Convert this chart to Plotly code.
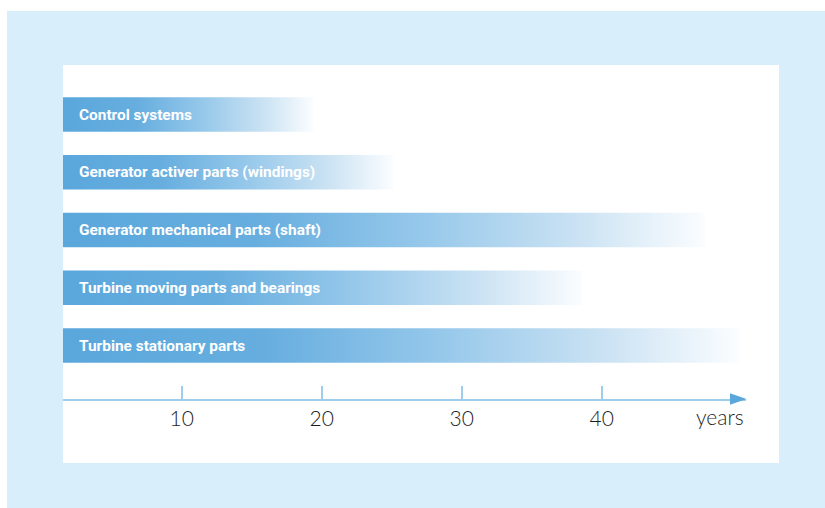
import plotly.graph_objects as go

# Component groups (top to bottom) and their expected service life in years
components = [
    "Control systems",
    "Generator activer parts (windings)",
    "Generator mechanical parts (shaft)",
    "Turbine moving parts and bearings",
    "Turbine stationary parts",
]
lifetimes = [19.4, 25.1, 47.4, 38.6, 49.8]
tick_values = [10, 20, 30, 40]
tick_labels = ["10", "20", "30", "40"]
axis_title = "years"

# Figure geometry (pixels)
FIG_W, FIG_H = 825, 508
L, R, T, B = 63, 746, 65, 399
PX_PER_YEAR = 14.0
ZERO_PX = 41.7
X_RANGE = [(L - ZERO_PX) / PX_PER_YEAR, (R - ZERO_PX) / PX_PER_YEAR]
ROW_PITCH = 57.75
FIRST_ROW_PX = 114.5
Y_RANGE = [(B - FIRST_ROW_PX) / ROW_PITCH, (T - FIRST_ROW_PX) / ROW_PITCH]
HALF_BAR = 0.3


def px(x):
    return (x - L) / (R - L)


def py(y):
    return (B - y) / (B - T)


BLUE = "#5aa7dc"
AXIS_BLUE = "#9fcdec"
gradient = [
    [0.0, BLUE],
    [0.3, "#67aedf"],
    [0.55, "#94c7ea"],
    [0.8, "#cae2f3"],
    [1.0, "#fbfdff"],
]
TICK_FONT = dict(family="Lato, sans-serif", size=21, color="#1e1e1e", weight=300)

fig = go.Figure()

x_start = X_RANGE[0]
for i, (name, years) in enumerate(zip(components, lifetimes)):
    fig.add_trace(
        go.Scatter(
            x=[x_start, years, years, x_start, x_start],
            y=[i - HALF_BAR, i - HALF_BAR, i + HALF_BAR, i + HALF_BAR, i - HALF_BAR],
            mode="lines",
            fill="toself",
            line=dict(width=0),
            fillgradient=dict(type="horizontal", colorscale=gradient),
            hoverinfo="skip",
            showlegend=False,
        )
    )
    fig.add_annotation(
        x=(77 - ZERO_PX) / PX_PER_YEAR,
        y=i,
        xref="x",
        yref="y",
        text=name,
        showarrow=False,
        xanchor="left",
        yanchor="middle",
        font=dict(family="Liberation Sans Narrow, Arial Narrow, Roboto, sans-serif",
                  size=15.4, color="white", weight="bold"),
    )

# Axis unit label at the arrow tip
fig.add_annotation(
    x=1, y=py(416.5), xref="paper", yref="paper",
    text=axis_title, showarrow=False, xanchor="right", yanchor="middle",
    font=TICK_FONT,
)

shapes = [
    # light blue frame and white panel
    dict(type="rect", xref="paper", yref="paper", layer="below",
         x0=px(7), x1=px(FIG_W + 5), y0=py(11), y1=py(FIG_H + 5),
         fillcolor="#d8eefa", line=dict(width=0)),
    dict(type="rect", xref="paper", yref="paper", layer="below",
         x0=px(63), x1=px(779), y0=py(65), y1=py(463),
         fillcolor="white", line=dict(width=0)),
    # arrow head on the time axis
    dict(type="path", xref="paper", yref="paper",
         path=f"M {px(730)} {py(393.3)} L {px(746.5)} {py(399)} L {px(730)} {py(404.7)} Z",
         fillcolor=BLUE, line=dict(width=0)),
]

fig.update_layout(
    width=FIG_W,
    height=FIG_H,
    margin=dict(l=L, r=FIG_W - R, t=T, b=FIG_H - B),
    paper_bgcolor="white",
    plot_bgcolor="rgba(0,0,0,0)",
    shapes=shapes,
    showlegend=False,
    xaxis=dict(
        range=X_RANGE,
        tickvals=tick_values,
        ticktext=tick_labels,
        ticks="inside",
        ticklen=13,
        tickwidth=1.5,
        tickcolor=AXIS_BLUE,
        showline=True,
        linecolor=AXIS_BLUE,
        linewidth=1.5,
        showgrid=False,
        zeroline=False,
        tickfont=TICK_FONT,
        fixedrange=True,
    ),
    yaxis=dict(
        range=Y_RANGE,
        showticklabels=False,
        showgrid=False,
        zeroline=False,
        showline=False,
        ticks="",
        fixedrange=True,
    ),
)

fig.write_html("out.html")
